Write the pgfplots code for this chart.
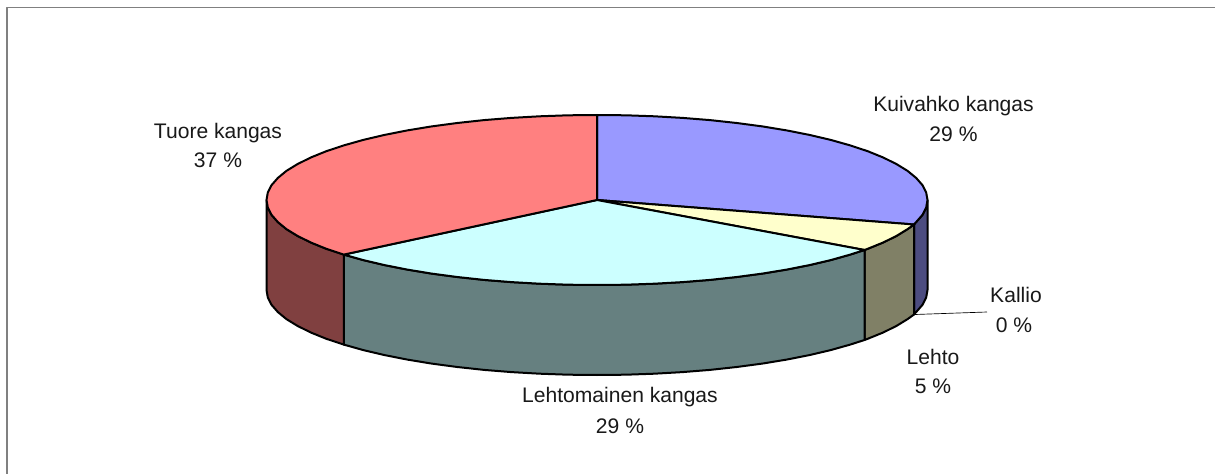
\documentclass[border=0pt]{standalone}
\usepackage{pgfplots}
\pgfplotsset{compat=1.18}
\usepackage{fontspec}
\setmainfont{Liberation Sans}
\definecolor{cBlue}{HTML}{9999FF}
\definecolor{cBlueS}{HTML}{4C4C80}
\definecolor{cYel}{HTML}{FFFFCC}
\definecolor{cYelS}{HTML}{808066}
\definecolor{cCyan}{HTML}{CCFFFF}
\definecolor{cCyanS}{HTML}{668080}
\definecolor{cRed}{HTML}{FF8080}
\definecolor{cRedS}{HTML}{804040}
\begin{document}
\begin{tikzpicture}[lab/.style={font=\fontsize{15.8}{18}\selectfont,anchor=base,inner sep=0pt,text=black!90}]
\begin{axis}[
  width=911.25pt,height=355.5pt,scale only axis,
  xmin=0,xmax=1215,ymin=0,ymax=474,y dir=reverse,
  hide axis,clip=true,
  every axis plot/.append style={line join=round,line width=1.5pt,draw=black},
]
% page background
\addplot[fill=white,draw=none] coordinates {(0,0)(1215,0)(1215,474)(0,474)} --cycle;
% frame
\addplot[draw=gray,line width=1pt] coordinates {(7,474)(7,7.5)(1215,7.5)};
% side walls
\addplot[fill=cBlueS] coordinates {(927.5,200)(926.2,207.4)(922.5,214.8)(916.2,222)(914,224.5)(914,314.5)(916.2,312)(922.5,304.8)(926.2,297.4)(927.5,290)} --cycle;
\addplot[fill=cYelS] coordinates {(914,224.5)(907.6,229.1)(896.5,235.9)(883.2,242.5)(867.7,248.8)(864.5,250)(864.5,340)(867.7,338.8)(883.2,332.5)(896.5,325.9)(907.6,319.1)(914,314.5)} --cycle;
\addplot[fill=cCyanS] coordinates {(864.5,250)(850.2,254.6)(830.7,260.1)(809.4,265.1)(786.6,269.6)(762.3,273.6)(736.7,277)(710,279.9)(682.5,282.1)(654.4,283.7)(625.8,284.7)(597,285)(568.2,284.7)(539.6,283.7)(511.5,282.1)(484,279.9)(457.3,277)(431.7,273.6)(407.4,269.6)(384.6,265.1)(363.3,260.1)(343.8,254.6)(343.8,344.6)(363.3,350.1)(384.6,355.1)(407.4,359.6)(431.7,363.6)(457.3,367)(484,369.9)(511.5,372.1)(539.6,373.7)(568.2,374.7)(597,375)(625.8,374.7)(654.4,373.7)(682.5,372.1)(710,369.9)(736.7,367)(762.3,363.6)(786.6,359.6)(809.4,355.1)(830.7,350.1)(850.2,344.6)(864.5,340)} --cycle;
\addplot[fill=cRedS] coordinates {(343.8,254.6)(326.3,248.8)(310.8,242.5)(297.5,235.9)(286.4,229.1)(277.8,222)(271.5,214.8)(267.8,207.4)(266.5,200)(266.5,290)(267.8,297.4)(271.5,304.8)(277.8,312)(286.4,319.1)(297.5,325.9)(310.8,332.5)(326.3,338.8)(343.8,344.6)} --cycle;
% top faces
\addplot[fill=cBlue] coordinates {(597,200)(597,115)(625.8,115.3)(654.4,116.3)(682.5,117.9)(710,120.1)(736.7,123)(762.3,126.4)(786.6,130.4)(809.4,134.9)(830.7,139.9)(850.2,145.4)(867.7,151.2)(883.2,157.5)(896.5,164.1)(907.6,170.9)(916.2,178)(922.5,185.2)(926.2,192.6)(927.5,200)(926.2,207.4)(922.5,214.8)(916.2,222)(914,224.5)} --cycle;
\addplot[fill=cYel] coordinates {(597,200)(914,224.5)(907.6,229.1)(896.5,235.9)(883.2,242.5)(867.7,248.8)(864.5,250)} --cycle;
\addplot[fill=cCyan] coordinates {(597,200)(864.5,250)(850.2,254.6)(830.7,260.1)(809.4,265.1)(786.6,269.6)(762.3,273.6)(736.7,277)(710,279.9)(682.5,282.1)(654.4,283.7)(625.8,284.7)(597,285)(568.2,284.7)(539.6,283.7)(511.5,282.1)(484,279.9)(457.3,277)(431.7,273.6)(407.4,269.6)(384.6,265.1)(363.3,260.1)(343.8,254.6)} --cycle;
\addplot[fill=cRed] coordinates {(597,200)(343.8,254.6)(326.3,248.8)(310.8,242.5)(297.5,235.9)(286.4,229.1)(277.8,222)(271.5,214.8)(267.8,207.4)(266.5,200)(267.8,192.6)(271.5,185.2)(277.8,178)(286.4,170.9)(297.5,164.1)(310.8,157.5)(326.3,151.2)(343.8,145.4)(363.3,139.9)(384.6,134.9)(407.4,130.4)(431.7,126.4)(457.3,123)(484,120.1)(511.5,117.9)(539.6,116.3)(568.2,115.3)(597,115)} --cycle;
% leader
\addplot[draw=black,line width=0.5pt] coordinates {(915,314.5)(987,312)};
% labels
\node[lab] at (axis cs:953.5,112) {Kuivahko kangas};
\node[lab] at (axis cs:953.5,141.5) {29 \%};
\node[lab] at (axis cs:218,139) {Tuore kangas};
\node[lab] at (axis cs:218,168) {37 \%};
\node[lab] at (axis cs:1016,302.5) {Kallio};
\node[lab] at (axis cs:1014,332) {0 \%};
\node[lab] at (axis cs:933,364.5) {Lehto};
\node[lab] at (axis cs:933,393.5) {5 \%};
\node[lab] at (axis cs:620,402.5) {Lehtomainen kangas};
\node[lab] at (axis cs:620,433) {29 \%};
\end{axis}
\end{tikzpicture}
\end{document}
